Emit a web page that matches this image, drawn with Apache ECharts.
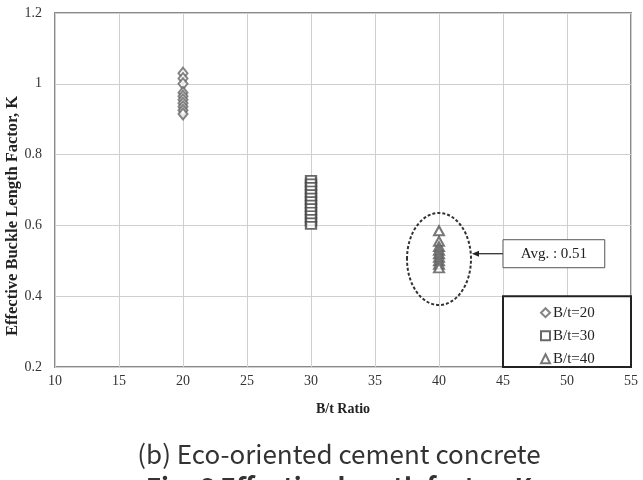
<!DOCTYPE html>
<html><head><meta charset="utf-8">
<script src="https://cdn.jsdelivr.net/npm/echarts@6/dist/echarts.min.js"></script>
<style>html,body{margin:0;padding:0;background:#fff}#c{width:643px;height:480px}</style>
</head><body><div id="c"></div>
<script>
var xTicks = [10, 15, 20, 25, 30, 35, 40, 45, 50, 55];
var yTicks = [0.2, 0.4, 0.6, 0.8, 1.0, 1.2];
var seriesNames = ['B/t=20', 'B/t=30', 'B/t=40'];
var bt20Values = [1.03, 1.015, 1.0, 0.975, 0.965, 0.955, 0.945, 0.935, 0.925, 0.915];
var bt30Values = [0.73, 0.72, 0.71, 0.70, 0.69, 0.68, 0.67, 0.66, 0.65, 0.64, 0.63, 0.62, 0.61, 0.60];
var bt40Values = [0.585, 0.555, 0.54, 0.53, 0.52, 0.51, 0.50, 0.49, 0.48];
var avgLabel = 'Avg. : 0.51';
var yTitle = 'Effective Buckle Length Factor, K';
var caption = '(b) Eco-oriented cement concrete';
var figCaption = 'Fig. 6 Effective length factor, K';

function pts(x, arr) { return arr.map(function (v) { return [x, v]; }); }
var serif = '"Liberation Serif", "Times New Roman", serif';
var sans = '"Noto Sans CJK KR", "Noto Sans", sans-serif';
var chart = echarts.init(document.getElementById('c'), null, {renderer: 'canvas'});
var option = {
  animation: false,
  backgroundColor: '#fff',
  grid: {left: 55, top: 13, right: 12, bottom: 113, containLabel: false, outerBoundsMode: 'none',
    show: true, borderColor: '#8a8a8a', borderWidth: 2},
  xAxis: {
    type: 'value', min: 10, max: 55, interval: 5,
    name: 'B/t Ratio', nameLocation: 'middle', nameGap: 35,
    nameTextStyle: {fontFamily: serif, fontWeight: 'bold', fontSize: 14, color: '#222'},
    axisLine: {show: false}, axisTick: {show: false},
    axisLabel: {fontFamily: serif, fontSize: 14, color: '#333', margin: 7},
    splitLine: {show: true, lineStyle: {color: '#cfcfcf', width: 1}}
  },
  yAxis: {
    type: 'value', min: 0.2, max: 1.2, interval: 0.2,
    axisLine: {show: false}, axisTick: {show: false},
    axisLabel: {fontFamily: serif, fontSize: 14, color: '#333', margin: 13,
      formatter: function (v) { return String(Math.round(v * 10) / 10); }},
    splitLine: {show: true, lineStyle: {color: '#cfcfcf', width: 1}}
  },
  legend: {show: false},
  series: [
    {name: seriesNames[0], type: 'scatter', symbol: 'emptyDiamond', symbolSize: [9, 11],
      itemStyle: {color: '#666', borderWidth: 1}, data: pts(20, bt20Values), z: 5},
    {name: seriesNames[1], type: 'scatter', symbol: 'emptyRect', symbolSize: [10, 7],
      itemStyle: {color: '#444', borderWidth: 1}, data: pts(30, bt30Values), z: 5},
    {name: seriesNames[2], type: 'scatter', symbol: 'emptyTriangle', symbolSize: [10, 9],
      itemStyle: {color: '#555', borderWidth: 1}, data: pts(40, bt40Values), z: 5}
  ]
};
chart.setOption(option);

function P(x, y) { return chart.convertToPixel({gridIndex: 0}, [x, y]); }
var c = P(40, 0.505), e = P(42.5, 0.635);
var rx = e[0] - c[0], ry = c[1] - e[1];
var boxL = P(45, 0.52), boxR = P(52.95, 0.52);
var legTL = P(45, 0.40), legBR = P(55, 0.2);
var graphic = [
  {type: 'ellipse', shape: {cx: c[0], cy: c[1], rx: rx, ry: ry}, style: {fill: 'none', stroke: '#333', lineWidth: 2, lineDash: [3, 2]}, z: 10},
  {type: 'line', shape: {x1: c[0] + rx + 3, y1: boxL[1], x2: boxL[0], y2: boxL[1]}, style: {stroke: '#222', lineWidth: 1.2}, z: 10},
  {type: 'polygon', shape: {points: [[c[0] + rx + 1, boxL[1]], [c[0] + rx + 8, boxL[1] - 3], [c[0] + rx + 8, boxL[1] + 3]]}, style: {fill: '#222'}, z: 10},
  {type: 'rect', shape: {x: boxL[0], y: boxL[1] - 14, width: boxR[0] - boxL[0], height: 28}, style: {fill: '#fff', stroke: '#555', lineWidth: 1}, z: 10},
  {type: 'text', x: (boxL[0] + boxR[0]) / 2, y: boxL[1], style: {text: avgLabel, fontFamily: serif, fontSize: 15, fill: '#222', align: 'center', verticalAlign: 'middle'}, z: 11},
  {type: 'rect', shape: {x: legTL[0], y: legTL[1], width: legBR[0] - legTL[0], height: legBR[1] - legTL[1]}, style: {fill: '#fff', stroke: '#222', lineWidth: 2}, z: 10},
  {type: 'text', x: 13, y: 216, rotation: Math.PI / 2, style: {text: yTitle, fontFamily: serif, fontWeight: 'bold', fontSize: 16.5, fill: '#222', align: 'center', verticalAlign: 'middle'}, z: 11},
  {type: 'text', x: 339, y: 441, style: {text: caption, fontFamily: sans, fontSize: 26, fill: '#333', align: 'center'}, z: 11},
  {type: 'text', x: 339, y: 474, style: {text: figCaption, fontFamily: sans, fontWeight: 'bold', fontSize: 26, fill: '#333', align: 'center'}, z: 11}
];
var legCx = (legTL[0] + legBR[0]) / 2;
chart.setOption({
  graphic: graphic,
  legend: {show: true, orient: 'vertical', data: seriesNames, left: legCx - 32, top: legTL[1] + 4,
    itemWidth: 9, itemHeight: 9, itemGap: 8,
    textStyle: {fontFamily: serif, fontSize: 15, color: '#222', padding: [0, 0, 0, -2]},
    z: 12}
});
</script></body></html>
